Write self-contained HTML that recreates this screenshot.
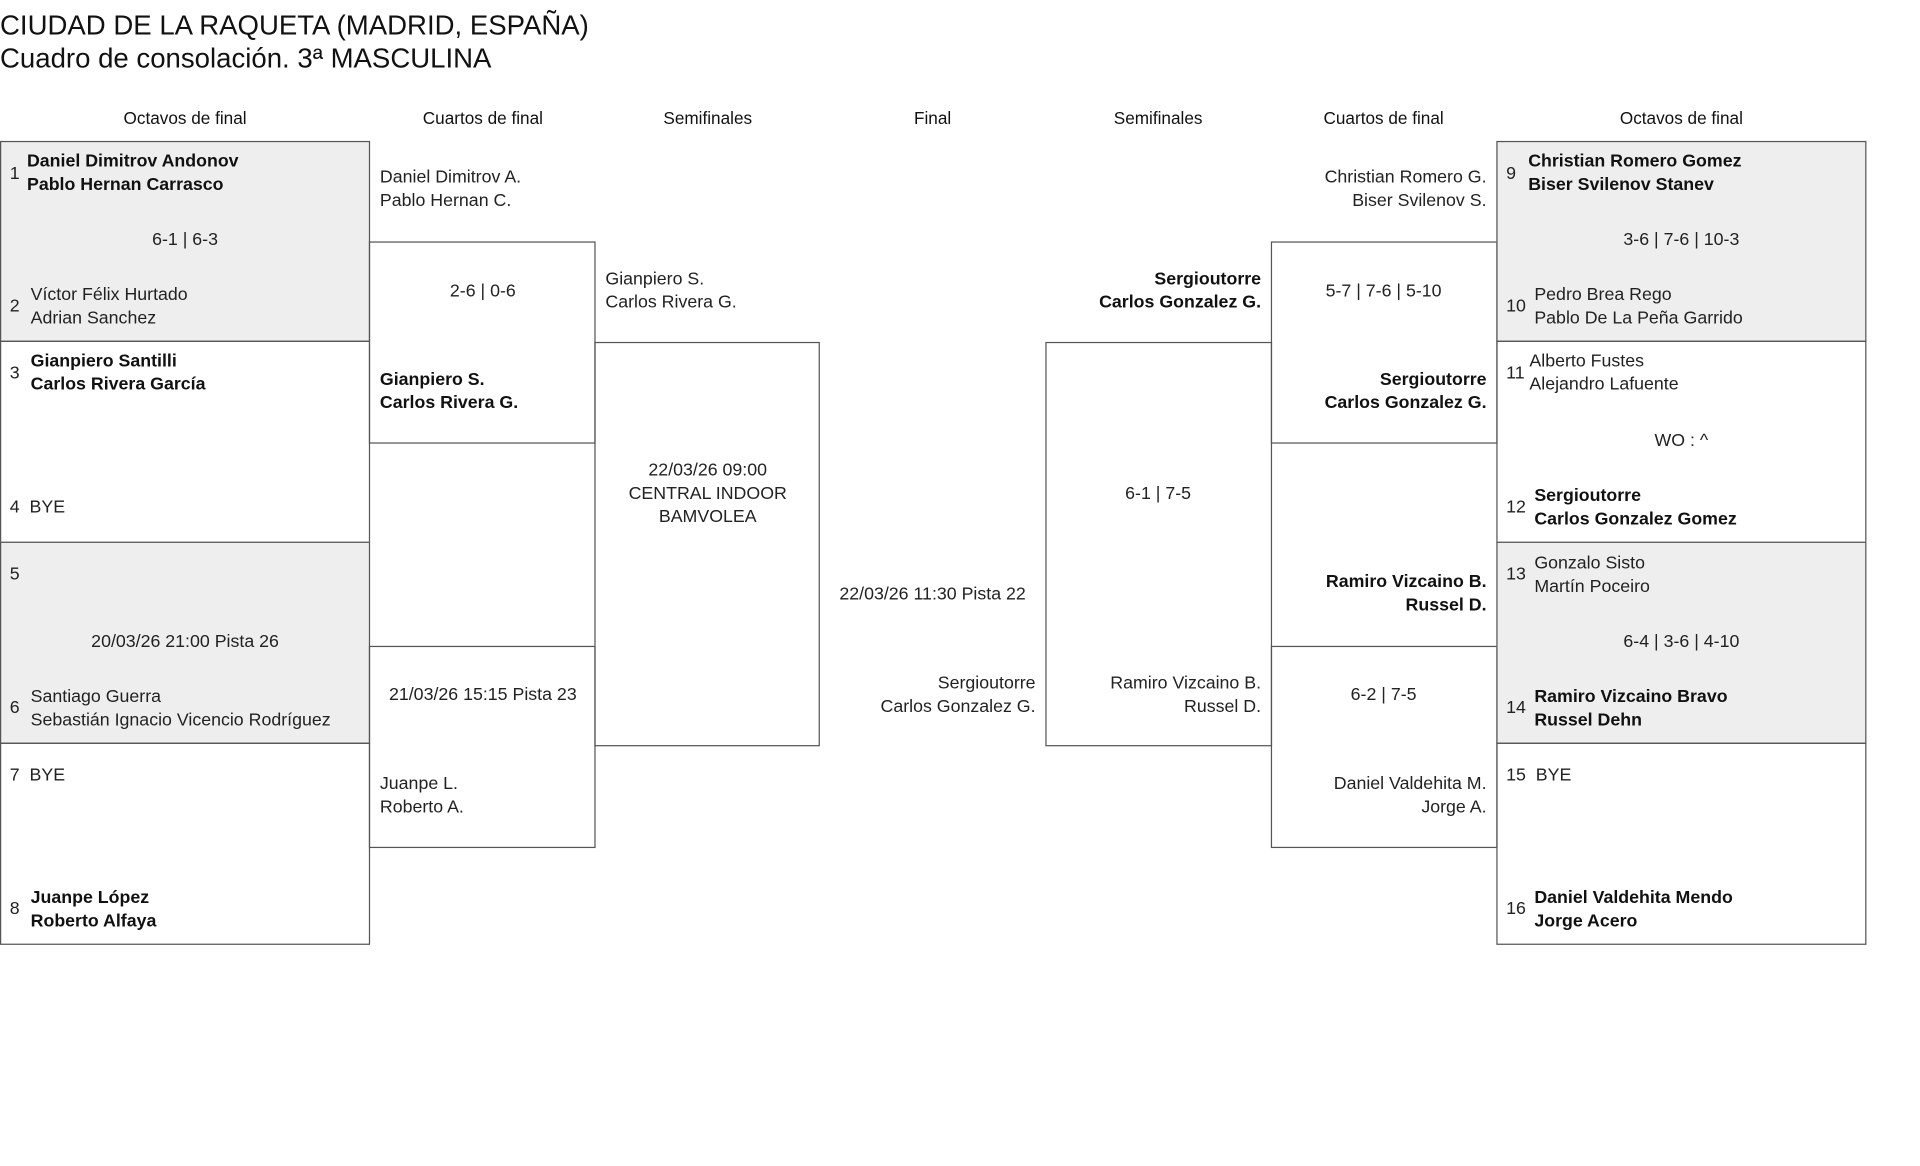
<!DOCTYPE html>
<html><head><meta charset="utf-8"><style>
html,body{margin:0;padding:0;background:#fff;width:1920px;height:1166px;overflow:hidden}
#w{position:absolute;left:0;top:0;width:1550px;height:941px;transform:scale(1.2255);transform-origin:0 0;font-family:"Liberation Sans",sans-serif;color:#222;font-size:14.5px}
.b{position:absolute;border:1px solid #555;box-sizing:border-box}
.g{background:#eee}
.t{position:absolute;line-height:19px;white-space:nowrap}
.c{text-align:center}
.r{text-align:right}
.k{font-weight:bold;color:#111}
.h{position:absolute;top:88px;text-align:center;font-size:14px;color:#111}
</style></head><body><div id="w">
<div class="t" style="left:0;top:7px;font-size:22.5px;line-height:27px;color:#111">CIUDAD DE LA RAQUETA (MADRID, ESPAÑA)<br>Cuadro de consolación. 3ª MASCULINA</div>

<div class="h" style="left:0;width:302px">Octavos de final</div>
<div class="h" style="left:302px;width:184px">Cuartos de final</div>
<div class="h" style="left:486px;width:183px">Semifinales</div>
<div class="h" style="left:669px;width:184px">Final</div>
<div class="h" style="left:853px;width:184px">Semifinales</div>
<div class="h" style="left:1037px;width:184px">Cuartos de final</div>
<div class="h" style="left:1221px;width:302px">Octavos de final</div>

<div class="b g" style="left:0;top:115px;width:302px;height:164px"></div>
<div class="b" style="left:0;top:278px;width:302px;height:165px"></div>
<div class="b g" style="left:0;top:442px;width:302px;height:165px"></div>
<div class="b" style="left:0;top:606px;width:302px;height:165px"></div>
<div class="b" style="left:301px;top:197px;width:185px;height:165px"></div>
<div class="b" style="left:301px;top:527px;width:185px;height:165px"></div>
<div class="b" style="left:485px;top:279px;width:184px;height:330px"></div>
<div class="b" style="left:853px;top:279px;width:185px;height:330px"></div>
<div class="b" style="left:1037px;top:197px;width:185px;height:165px"></div>
<div class="b" style="left:1037px;top:527px;width:185px;height:165px"></div>
<div class="b g" style="left:1221px;top:115px;width:302px;height:164px"></div>
<div class="b" style="left:1221px;top:278px;width:302px;height:165px"></div>
<div class="b g" style="left:1221px;top:442px;width:302px;height:165px"></div>
<div class="b" style="left:1221px;top:606px;width:302px;height:165px"></div>

<div class="t" style="left:8px;top:133px">1</div>
<div class="t k" style="left:22px;top:123px">Daniel Dimitrov Andonov<br>Pablo Hernan Carrasco</div>
<div class="t c" style="left:0;width:302px;top:187px">6-1 | 6-3</div>
<div class="t" style="left:8px;top:241px">2</div>
<div class="t" style="left:25px;top:232px">Víctor Félix Hurtado<br>Adrian Sanchez</div>
<div class="t" style="left:8px;top:296px">3</div>
<div class="t k" style="left:25px;top:286px">Gianpiero Santilli<br>Carlos Rivera García</div>
<div class="t" style="left:8px;top:405px">4&nbsp;&nbsp;BYE</div>
<div class="t" style="left:8px;top:460px">5</div>
<div class="t c" style="left:0;width:302px;top:515px">20/03/26 21:00 Pista 26</div>
<div class="t" style="left:8px;top:569px">6</div>
<div class="t" style="left:25px;top:560px">Santiago Guerra<br>Sebastián Ignacio Vicencio Rodríguez</div>
<div class="t" style="left:8px;top:624px">7&nbsp;&nbsp;BYE</div>
<div class="t" style="left:8px;top:733px">8</div>
<div class="t k" style="left:25px;top:724px">Juanpe López<br>Roberto Alfaya</div>

<div class="t" style="left:310px;top:136px">Daniel Dimitrov A.<br>Pablo Hernan C.</div>
<div class="t c" style="left:302px;width:184px;top:229px">2-6 | 0-6</div>
<div class="t k" style="left:310px;top:301px">Gianpiero S.<br>Carlos Rivera G.</div>
<div class="t c" style="left:302px;width:184px;top:558px">21/03/26 15:15 Pista 23</div>
<div class="t" style="left:310px;top:631px">Juanpe L.<br>Roberto A.</div>

<div class="t" style="left:494px;top:219px">Gianpiero S.<br>Carlos Rivera G.</div>
<div class="t c" style="left:486px;width:183px;top:375px">22/03/26 09:00<br>CENTRAL INDOOR<br>BAMVOLEA</div>

<div class="t c" style="left:669px;width:184px;top:476px">22/03/26 11:30 Pista 22</div>
<div class="t r" style="left:669px;width:176px;top:549px">Sergioutorre<br>Carlos Gonzalez G.</div>

<div class="t r k" style="left:853px;width:176px;top:219px">Sergioutorre<br>Carlos Gonzalez G.</div>
<div class="t c" style="left:853px;width:184px;top:394px">6-1 | 7-5</div>
<div class="t r" style="left:853px;width:176px;top:549px">Ramiro Vizcaino B.<br>Russel D.</div>

<div class="t r" style="left:1037px;width:176px;top:136px">Christian Romero G.<br>Biser Svilenov S.</div>
<div class="t c" style="left:1037px;width:184px;top:229px">5-7 | 7-6 | 5-10</div>
<div class="t r k" style="left:1037px;width:176px;top:301px">Sergioutorre<br>Carlos Gonzalez G.</div>
<div class="t r k" style="left:1037px;width:176px;top:466px">Ramiro Vizcaino B.<br>Russel D.</div>
<div class="t c" style="left:1037px;width:184px;top:558px">6-2 | 7-5</div>
<div class="t r" style="left:1037px;width:176px;top:631px">Daniel Valdehita M.<br>Jorge A.</div>

<div class="t" style="left:1229px;top:133px">9</div>
<div class="t k" style="left:1247px;top:123px">Christian Romero Gomez<br>Biser Svilenov Stanev</div>
<div class="t c" style="left:1221px;width:302px;top:187px">3-6 | 7-6 | 10-3</div>
<div class="t" style="left:1229px;top:241px">10</div>
<div class="t" style="left:1252px;top:232px">Pedro Brea Rego<br>Pablo De La Peña Garrido</div>
<div class="t" style="left:1229px;top:296px">11</div>
<div class="t" style="left:1248px;top:286px">Alberto Fustes<br>Alejandro Lafuente</div>
<div class="t c" style="left:1221px;width:302px;top:351px">WO : ^</div>
<div class="t" style="left:1229px;top:405px">12</div>
<div class="t k" style="left:1252px;top:396px">Sergioutorre<br>Carlos Gonzalez Gomez</div>
<div class="t" style="left:1229px;top:460px">13</div>
<div class="t" style="left:1252px;top:451px">Gonzalo Sisto<br>Martín Poceiro</div>
<div class="t c" style="left:1221px;width:302px;top:515px">6-4 | 3-6 | 4-10</div>
<div class="t" style="left:1229px;top:569px">14</div>
<div class="t k" style="left:1252px;top:560px">Ramiro Vizcaino Bravo<br>Russel Dehn</div>
<div class="t" style="left:1229px;top:624px">15&nbsp;&nbsp;BYE</div>
<div class="t" style="left:1229px;top:733px">16</div>
<div class="t k" style="left:1252px;top:724px">Daniel Valdehita Mendo<br>Jorge Acero</div>
</div></body></html>
